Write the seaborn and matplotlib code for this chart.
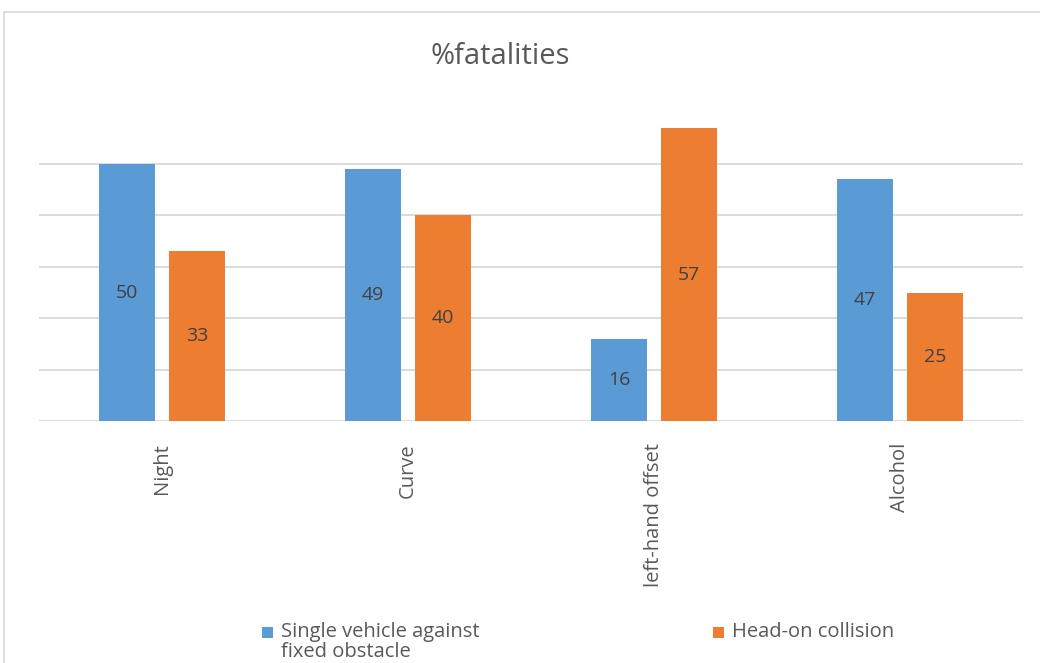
import pandas as pd
import seaborn as sns
import matplotlib.pyplot as plt
from matplotlib.patches import Rectangle

categories = ["Night", "Curve", "left-hand offset", "Alcohol"]
single_vehicle = [50, 49, 16, 47]
head_on = [33, 40, 57, 25]
series_names = ["Single vehicle against\nfixed obstacle", "Head-on collision"]
colors = ["#5b9bd5", "#ed7d31"]

df = pd.DataFrame({
    "category": categories * 2,
    "value": single_vehicle + head_on,
    "series": [series_names[0]] * 4 + [series_names[1]] * 4,
})

sns.set_style("white")
plt.rcParams["font.family"] = ["Open Sans", "DejaVu Sans"]
text_color = "#595959"
grid_color = "#d9d9d9"

fig = plt.figure(figsize=(10.4, 6.63), dpi=100)
ax = fig.add_axes([39 / 1040, 1 - 421 / 663, (1023 - 39) / 1040, (421 - 120) / 663])

# chart border (cut off on right and bottom like the original)
fig.patches.append(Rectangle((4 / 1040, -0.1), 1.2, 1.1 - 12 / 663,
                             transform=fig.transFigure, fill=False,
                             edgecolor=grid_color, linewidth=1.2))

sns.barplot(data=df, x="category", y="value", hue="series",
            palette=colors, width=0.57, gap=0.2,
            saturation=1, linewidth=0, ax=ax, zorder=3, legend=False)

ax.set_ylim(0, (421 - 120) / 5.14)
ax.set_yticks([0, 10, 20, 30, 40, 50])
ax.set_yticklabels([])
ax.tick_params(axis="y", length=0)
ax.yaxis.grid(True, color=grid_color, linewidth=1.3, zorder=0)
ax.set_axisbelow(True)
for s in ax.spines.values():
    s.set_visible(False)
ax.set_xlim(-0.5, 3.5)
ax.set_xlabel("")
ax.set_ylabel("")
ax.tick_params(axis="x", length=0, pad=16)
ax.set_xticks(range(4))
ax.set_xticklabels(categories, rotation=90, fontsize=14.5, color=text_color, va="top")

for cont in ax.containers:
    for bar in cont:
        h = bar.get_height()
        ax.text(bar.get_x() + bar.get_width() / 2, h / 2, f"{h:.0f}",
                ha="center", va="center", fontsize=14, color="#404040", zorder=4)

fig.text(500 / 1040, 1 - 56 / 663, "%fatalities", ha="center", va="center",
         fontsize=21, color=text_color)

# legend laid out like Excel: handle beside the first line of each label
legend_x = [262, 713]
for name, c, x in zip(series_names, colors, legend_x):
    fig.patches.append(Rectangle((x / 1040, 1 - 638 / 663), 11 / 1040, 11 / 663,
                                 transform=fig.transFigure, color=c, lw=0))
    fig.text((x + 19) / 1040, 1 - 622 / 663, name, ha="left", va="top",
             fontsize=14.5, color=text_color, linespacing=1.0)

fig.savefig("out.png", dpi=100)
